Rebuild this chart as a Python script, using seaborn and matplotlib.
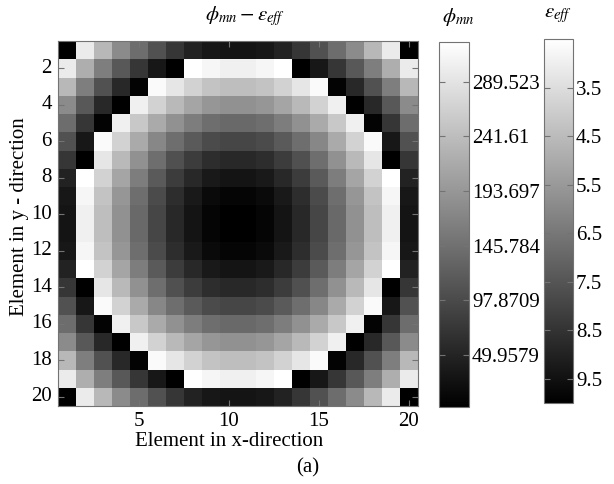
import numpy as np
import pandas as pd
import seaborn as sns
import matplotlib
matplotlib.use("Agg")
import matplotlib.pyplot as plt

n = np.nan

# phi_mn values inside the circular region (NaN outside)
phi_rows = [
    [n, n, n, n, n, n, n, n, n, n, n, n, n, n, n, n, n, n, n, n],
    [n, n, n, n, n, n, n, 324.6, 312.1, 305.8, 305.8, 312.1, 324.6, n, n, n, n, n, n, n],
    [n, n, n, n, n, 318.3, 293.2, 268.1, 249.3, 243.0, 243.0, 249.3, 268.1, 293.2, 318.3, n, n, n, n, n],
    [n, n, n, n, 305.8, 268.1, 236.8, 211.7, 192.8, 186.6, 186.6, 192.8, 211.7, 236.8, 268.1, 305.8, n, n, n, n],
    [n, n, n, 305.8, 255.6, 217.9, 186.6, 161.5, 142.6, 136.4, 136.4, 142.6, 161.5, 186.6, 217.9, 255.6, 305.8, n, n, n],
    [n, n, 318.3, 268.1, 217.9, 174.0, 142.6, 117.5, 98.7, 92.4, 92.4, 98.7, 117.5, 142.6, 174.0, 217.9, 268.1, 318.3, n, n],
    [n, n, 293.2, 236.8, 186.6, 142.6, 105.0, 79.9, 61.1, 54.8, 54.8, 61.1, 79.9, 105.0, 142.6, 186.6, 236.8, 293.2, n, n],
    [n, 324.6, 268.1, 211.7, 161.5, 117.5, 79.9, 54.8, 36.0, 29.7, 29.7, 36.0, 54.8, 79.9, 117.5, 161.5, 211.7, 268.1, 324.6, n],
    [n, 312.1, 249.3, 192.8, 142.6, 98.7, 61.1, 36.0, 17.1, 10.9, 10.9, 17.1, 36.0, 61.1, 98.7, 142.6, 192.8, 249.3, 312.1, n],
    [n, 305.8, 243.0, 186.6, 136.4, 92.4, 54.8, 29.7, 10.9, 4.6, 4.6, 10.9, 29.7, 54.8, 92.4, 136.4, 186.6, 243.0, 305.8, n],
    [n, 305.8, 243.0, 186.6, 136.4, 92.4, 54.8, 29.7, 10.9, 4.6, 4.6, 10.9, 29.7, 54.8, 92.4, 136.4, 186.6, 243.0, 305.8, n],
    [n, 312.1, 249.3, 192.8, 142.6, 98.7, 61.1, 36.0, 17.1, 10.9, 10.9, 17.1, 36.0, 61.1, 98.7, 142.6, 192.8, 249.3, 312.1, n],
    [n, 324.6, 268.1, 211.7, 161.5, 117.5, 79.9, 54.8, 36.0, 29.7, 29.7, 36.0, 54.8, 79.9, 117.5, 161.5, 211.7, 268.1, 324.6, n],
    [n, n, 293.2, 236.8, 186.6, 142.6, 105.0, 79.9, 61.1, 54.8, 54.8, 61.1, 79.9, 105.0, 142.6, 186.6, 236.8, 293.2, n, n],
    [n, n, 318.3, 268.1, 217.9, 174.0, 142.6, 117.5, 98.7, 92.4, 92.4, 98.7, 117.5, 142.6, 174.0, 217.9, 268.1, 318.3, n, n],
    [n, n, n, 305.8, 255.6, 217.9, 186.6, 161.5, 142.6, 136.4, 136.4, 142.6, 161.5, 186.6, 217.9, 255.6, 305.8, n, n, n],
    [n, n, n, n, 305.8, 268.1, 236.8, 211.7, 192.8, 186.6, 186.6, 192.8, 211.7, 236.8, 268.1, 305.8, n, n, n, n],
    [n, n, n, n, n, 318.3, 293.2, 268.1, 249.3, 243.0, 243.0, 249.3, 268.1, 293.2, 318.3, n, n, n, n, n],
    [n, n, n, n, n, n, n, 324.6, 312.1, 305.8, 305.8, 312.1, 324.6, n, n, n, n, n, n, n],
    [n, n, n, n, n, n, n, n, n, n, n, n, n, n, n, n, n, n, n, n],
]

# effective permittivity values outside the circular region (NaN inside)
eps_rows = [
    [10.0, 3.1, 4.6, 5.9, 6.8, 7.6, 8.4, 9.0, 9.3, 9.4, 9.4, 9.3, 9.0, 8.4, 7.6, 6.8, 5.9, 4.6, 3.1, 10.0],
    [3.1, 4.9, 6.3, 7.4, 8.4, 9.3, 10.0, n, n, n, n, n, n, 10.0, 9.3, 8.4, 7.4, 6.3, 4.9, 3.1],
    [4.6, 6.3, 7.6, 8.8, 9.9, n, n, n, n, n, n, n, n, n, n, 9.9, 8.8, 7.6, 6.3, 4.6],
    [5.9, 7.4, 8.8, 10.0, n, n, n, n, n, n, n, n, n, n, n, n, 10.0, 8.8, 7.4, 5.9],
    [6.8, 8.4, 9.9, n, n, n, n, n, n, n, n, n, n, n, n, n, n, 9.9, 8.4, 6.8],
    [7.6, 9.3, n, n, n, n, n, n, n, n, n, n, n, n, n, n, n, n, 9.3, 7.6],
    [8.4, 10.0, n, n, n, n, n, n, n, n, n, n, n, n, n, n, n, n, 10.0, 8.4],
    [9.0, n, n, n, n, n, n, n, n, n, n, n, n, n, n, n, n, n, n, 9.0],
    [9.3, n, n, n, n, n, n, n, n, n, n, n, n, n, n, n, n, n, n, 9.3],
    [9.4, n, n, n, n, n, n, n, n, n, n, n, n, n, n, n, n, n, n, 9.4],
    [9.4, n, n, n, n, n, n, n, n, n, n, n, n, n, n, n, n, n, n, 9.4],
    [9.3, n, n, n, n, n, n, n, n, n, n, n, n, n, n, n, n, n, n, 9.3],
    [9.0, n, n, n, n, n, n, n, n, n, n, n, n, n, n, n, n, n, n, 9.0],
    [8.4, 10.0, n, n, n, n, n, n, n, n, n, n, n, n, n, n, n, n, 10.0, 8.4],
    [7.6, 9.3, n, n, n, n, n, n, n, n, n, n, n, n, n, n, n, n, 9.3, 7.6],
    [6.8, 8.4, 9.9, n, n, n, n, n, n, n, n, n, n, n, n, n, n, 9.9, 8.4, 6.8],
    [5.9, 7.4, 8.8, 10.0, n, n, n, n, n, n, n, n, n, n, n, n, 10.0, 8.8, 7.4, 5.9],
    [4.6, 6.3, 7.6, 8.8, 9.9, n, n, n, n, n, n, n, n, n, n, 9.9, 8.8, 7.6, 6.3, 4.6],
    [3.1, 4.9, 6.3, 7.4, 8.4, 9.3, 10.0, n, n, n, n, n, n, 10.0, 9.3, 8.4, 7.4, 6.3, 4.9, 3.1],
    [10.0, 3.1, 4.6, 5.9, 6.8, 7.6, 8.4, 9.0, 9.3, 9.4, 9.4, 9.3, 9.0, 8.4, 7.6, 6.8, 5.9, 4.6, 3.1, 10.0],
]

x_elements = list(range(1, 21))
y_elements = list(range(1, 21))
x_tick_labels = ["5", "10", "15", "20"]
y_tick_labels = ["2", "4", "6", "8", "10", "12", "14", "16", "18", "20"]
phi_ticks = [49.9579, 97.8709, 145.784, 193.697, 241.61, 289.523]
phi_tick_labels = ["49.9579", "97.8709", "145.784", "193.697", "241.61", "289.523"]
eps_ticks = [3.5, 4.5, 5.5, 6.5, 7.5, 8.5, 9.5]
eps_tick_labels = ["3.5", "4.5", "5.5", "6.5", "7.5", "8.5", "9.5"]
phi_range = (4.6, 324.6)
eps_range = (2.5, 10.0)

plt.rcParams["font.family"] = ["Liberation Serif", "DejaVu Serif"]
plt.rcParams["mathtext.fontset"] = "stix"

phi_df = pd.DataFrame(phi_rows, index=y_elements, columns=x_elements)
eps_df = pd.DataFrame(eps_rows, index=y_elements, columns=x_elements)

W, H = 614, 484
fig = plt.figure(figsize=(W / 100, H / 100), dpi=100)

def box(x0, y0, x1, y1):
    return [x0 / W, 1 - y1 / H, (x1 - x0) / W, (y1 - y0) / H]

ax = fig.add_axes(box(57.5, 41, 417.5, 406))
cax1 = fig.add_axes(box(439.3, 41.7, 469.3, 406.7))
cax2 = fig.add_axes(box(544, 39, 573.3, 403.3))

sns.heatmap(phi_df, ax=ax, cmap="gray", vmin=phi_range[0], vmax=phi_range[1],
            cbar_ax=cax1)
sns.heatmap(eps_df, ax=ax, cmap="gray_r", vmin=eps_range[0], vmax=eps_range[1],
            cbar_ax=cax2)

edge = "0.45"
for s in ax.spines.values():
    s.set_visible(True)
    s.set_color(edge)
    s.set_linewidth(0.8)

FS = 15
ax.set_xticks([int(t) - 0.5 for t in x_tick_labels])
ax.set_xticklabels(x_tick_labels, rotation=0)
ax.set_yticks([int(t) - 0.5 for t in y_tick_labels])
ax.set_yticklabels(y_tick_labels, rotation=0)
ax.tick_params(direction="in", top=True, right=True, length=4, color=edge,
               labelsize=FS, pad=4)
ax.set_xlabel("")
ax.set_ylabel("")

cb1 = ax.collections[0].colorbar
cb2 = ax.collections[1].colorbar
for cb, ticks, labels in ((cb1, phi_ticks, phi_tick_labels),
                          (cb2, eps_ticks, eps_tick_labels)):
    cb.set_ticks(ticks)
    cb.set_ticklabels(labels)
    cb.outline.set_visible(True)
    cb.outline.set_edgecolor(edge)
    cb.outline.set_linewidth(0.8)
    cb.ax.tick_params(direction="in", left=True, right=True, labelleft=False,
                      labelright=True, length=4, color=edge, labelsize=FS, pad=2)
cb2.ax.invert_yaxis()

fig.text(245 / W, 1 - 16 / H, r"$\phi_{mn}-\varepsilon_{eff}$", ha="center",
         va="center", fontsize=15)
fig.text(458 / W, 1 - 17 / H, r"$\phi_{mn}$", ha="center", va="center", fontsize=15)
fig.text(558 / W, 1 - 15 / H, r"$\varepsilon_{eff}$", ha="center", va="center", fontsize=15)
fig.text(229 / W, 1 - 441 / H, "Element in x-direction", ha="center", va="center",
         fontsize=FS)
fig.text(20 / W, 1 - 217 / H, "Element in y - direction", ha="center", va="center",
         rotation=90, fontsize=FS)
fig.text(308 / W, 1 - 468 / H, "(a)", ha="center", va="center", fontsize=FS)

fig.savefig("out.png", dpi=100)
